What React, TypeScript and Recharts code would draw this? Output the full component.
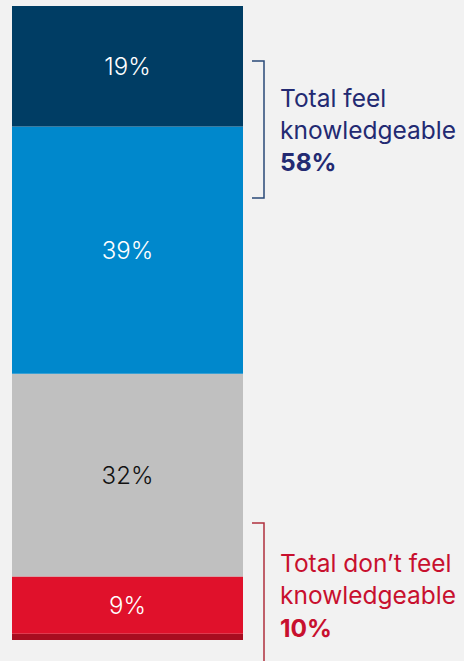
import { Bar, BarChart, Customized, LabelList, XAxis, YAxis } from 'recharts';

const categories = ['Knowledge'];
const segmentKeys = ['other', 'notAtAll', 'notVery', 'somewhat', 'very'];
const segmentValues = [1, 9, 32, 39, 19];
const segmentLabels = ['', '9%', '32%', '39%', '19%'];
const segmentColors = ['#a80d20', '#e0112b', '#c0c0c0', '#0088cc', '#003d64'];
const labelColors = ['#ffffff', '#ffffff', '#111111', '#ffffff', '#ffffff'];

const data = categories.map((category) => {
  const row: Record<string, string | number> = { category };
  segmentKeys.forEach((key, i) => {
    row[key] = segmentValues[i];
  });
  return row;
});

const FONT = 'Inter, Roboto, sans-serif';

const Annotations = () => (
  <g>
    <path d="M252 61 H264 V198 H252" fill="none" stroke="#2a4a78" strokeWidth={1.5} />
    <text x={280} y={107} fontSize={24.5} fill="#232a72" fontFamily={FONT}>
      Total feel
    </text>
    <text x={280} y={139} fontSize={24.5} fill="#232a72" fontFamily={FONT}>
      knowledgeable
    </text>
    <text x={280} y={171} fontSize={24.5} fontWeight={700} fill="#232a72" fontFamily={FONT}>
      58%
    </text>

    <path d="M252 523 H264 V661" fill="none" stroke="#b0303e" strokeWidth={1.5} />
    <text x={280} y={572} fontSize={24.5} fill="#c8102e" fontFamily={FONT}>
      Total don’t feel
    </text>
    <text x={280} y={604} fontSize={24.5} fill="#c8102e" fontFamily={FONT}>
      knowledgeable
    </text>
    <text x={280} y={637} fontSize={24.5} fontWeight={700} fill="#c8102e" fontFamily={FONT}>
      10%
    </text>
  </g>
);

export default function App() {
  return (
    <div style={{ position: 'absolute', left: 0, top: 0, width: 464, height: 661, background: '#f2f2f2' }}>
      <BarChart
        width={464}
        height={661}
        data={data}
        margin={{ top: 6, right: 221, bottom: 21, left: 12 }}
        barCategoryGap={0}
      >
        <XAxis dataKey="category" hide />
        <YAxis hide domain={[0, 100]} />
        {segmentKeys.map((key, i) => (
          <Bar key={key} dataKey={key} stackId="a" fill={segmentColors[i]} isAnimationActive={false}>
            {segmentLabels[i] && (
              <LabelList
                dataKey={key}
                position="center"
                formatter={() => segmentLabels[i]}
                fill={labelColors[i]}
                fontSize={24}
                fontWeight={300}
                fontFamily={FONT}
              />
            )}
          </Bar>
        ))}
        <Customized component={Annotations} />
      </BarChart>
    </div>
  );
}
